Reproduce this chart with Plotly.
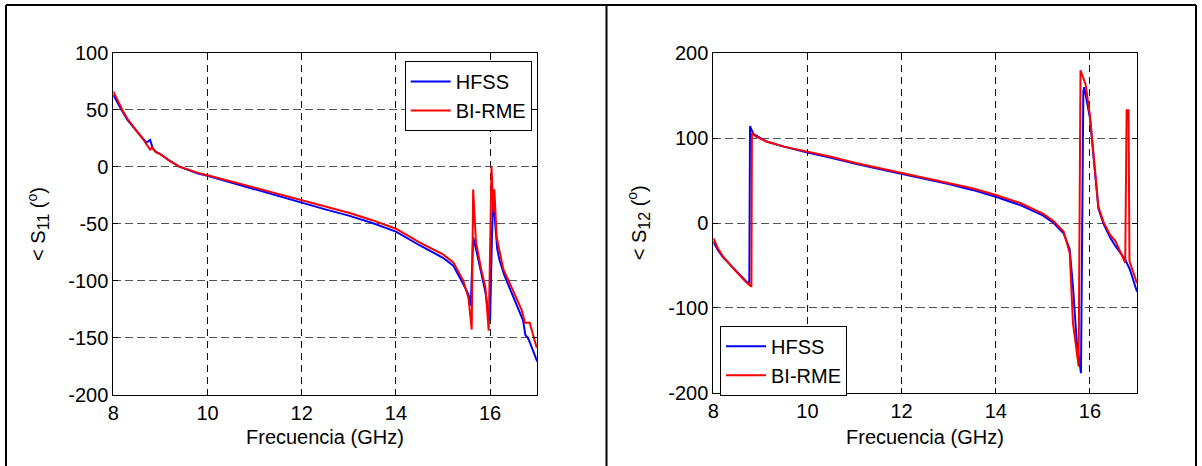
import plotly.graph_objects as go

# ---------------- data ----------------
s11_f_hfss = [8.0, 8.1, 8.2, 8.3, 8.4, 8.5, 8.6, 8.7, 8.78, 8.84, 8.9, 9.0, 9.2, 9.4, 9.6, 9.8, 10.0,
              10.5, 11.0, 11.5, 12.0, 12.5, 13.0, 13.5, 14.0, 14.5, 15.0, 15.22, 15.43, 15.54, 15.59,
              15.64, 15.7, 15.8, 15.9, 15.97, 16.0, 16.04, 16.07, 16.1, 16.15, 16.2, 16.3, 16.4,
              16.5, 16.6, 16.7, 16.75, 16.8, 16.85, 16.92, 17.0]
s11_v_hfss = [63, 55, 48, 41, 36, 31, 26, 21, 23.5, 16, 13, 11, 5, 0, -3, -6, -8,
              -14, -20, -26, -32, -37.5, -43, -49.5, -57, -69, -80, -87, -103, -112, -122,
              -62, -72, -92, -110, -130, -135, -60, -20, -45, -72, -82, -95, -105,
              -115, -125, -135, -148, -150, -155, -162, -171]

s11_f_birme = [8.0, 8.1, 8.2, 8.3, 8.4, 8.5, 8.6, 8.7, 8.78, 8.82, 8.9, 9.0, 9.2, 9.4, 9.6, 9.8, 10.0,
               10.5, 11.0, 11.5, 12.0, 12.5, 13.0, 13.5, 14.0, 14.5, 15.0, 15.22, 15.43, 15.54, 15.61,
               15.64, 15.7, 15.8, 15.9, 15.97, 16.03, 16.07, 16.09, 16.14, 16.28, 16.49, 16.67, 16.74,
               16.84, 16.99]
s11_v_birme = [66, 57, 49, 42, 36, 31, 26, 20, 15, 17, 13, 11, 5, 0, -3, -5.5, -7.5,
               -13, -18.5, -24, -30, -35, -40.5, -47, -54.5, -66.5, -77, -84, -100, -115, -143,
               -20, -66, -88, -106, -144, 0, -40, -20, -62, -90, -109, -126, -137,
               -137, -159]

s12_f_hfss = [8.0, 8.1, 8.2, 8.3, 8.4, 8.5, 8.6, 8.7, 8.765, 8.78, 8.85, 9.0, 9.13, 9.5, 10.0, 10.5,
              11.0, 11.5, 12.0, 12.5, 13.0, 13.5, 14.0, 14.52, 15.0, 15.23, 15.44, 15.57, 15.64,
              15.72, 15.81, 15.86, 15.88, 16.0, 16.09, 16.18, 16.29, 16.43, 16.54, 16.75, 16.85, 17.0]
s12_v_hfss = [-22, -32, -40, -46, -52, -58, -64, -69, -71, 114, 105, 100, 96, 90, 83, 77,
              70, 64, 58, 52, 46, 39, 31, 21, 9, 0, -12, -31, -75,
              -140, -177, 155, 160, 124, 66, 17, -1, -17, -27, -43, -55, -81]

s12_f_birme = [8.0, 8.1, 8.2, 8.3, 8.4, 8.5, 8.6, 8.7, 8.81, 8.82, 8.9, 9.13, 9.5, 10.0, 10.5,
               11.0, 11.5, 12.0, 12.5, 13.0, 13.5, 14.0, 14.52, 15.0, 15.23, 15.44, 15.57, 15.64,
               15.76, 15.8, 15.91, 16.0, 16.09, 16.18, 16.29, 16.43, 16.54, 16.75, 16.78, 16.82,
               16.84, 17.0]
s12_v_birme = [-18, -30, -39, -46, -52, -58, -64, -70, -75, 106, 102, 96, 90, 84, 78,
               71, 65, 59.5, 53.5, 47.5, 41, 33, 23.6, 11, 2, -10, -35, -118,
               -169, 180, 163, 127, 68, 19, 1, -14, -21, -47, 133, 133,
               -45, -71]

x_ticks = [8, 10, 12, 14, 16]
x_ticktext = ["8", "10", "12", "14", "16"]
y1_ticks = [-200, -150, -100, -50, 0, 50, 100]
y1_ticktext = ["-200", "-150", "-100", "-50", "0", "50", "100"]
y2_ticks = [-200, -100, 0, 100, 200]
y2_ticktext = ["-200", "-100", "0", "100", "200"]

x_title = "Frecuencia (GHz)"
y1_title = "&lt; S<sub><span style='font-size:16px'>11</span></sub> (<sup>o</sup>)"
y2_title = "&lt; S<sub><span style='font-size:16px'>12</span></sub> (<sup>o</sup>)"

# ---------------- figure ----------------
W, H = 1202, 466
FONT = "Liberation Sans, Arial, sans-serif"
BLUE = "#0000ff"
RED = "#ff0000"
FS = 20

fig = go.Figure()
fig.add_trace(go.Scatter(x=s11_f_hfss, y=s11_v_hfss, mode="lines", name="HFSS",
                         line=dict(color=BLUE, width=2), xaxis="x", yaxis="y", legend="legend"))
fig.add_trace(go.Scatter(x=s11_f_birme, y=s11_v_birme, mode="lines", name="BI-RME",
                         line=dict(color=RED, width=2), xaxis="x", yaxis="y", legend="legend"))
fig.add_trace(go.Scatter(x=s12_f_hfss, y=s12_v_hfss, mode="lines", name="HFSS",
                         line=dict(color=BLUE, width=2), xaxis="x2", yaxis="y2", legend="legend2"))
fig.add_trace(go.Scatter(x=s12_f_birme, y=s12_v_birme, mode="lines", name="BI-RME",
                         line=dict(color=RED, width=2), xaxis="x2", yaxis="y2", legend="legend2"))


def px_x(p):
    return p / W


def px_y(p):
    return 1 - p / H


tickfont = dict(family=FONT, size=FS, color="black")
common_x = dict(range=[8, 17], tickvals=x_ticks, ticktext=x_ticktext, ticks="inside", ticklen=5,
                tickcolor="black", showline=True, linecolor="black", linewidth=1, mirror="ticks",
                showgrid=True, gridcolor="#111111", gridwidth=1, griddash="7px,5px",
                zeroline=False, tickfont=tickfont, automargin=False, fixedrange=True)
common_y = dict(ticks="inside", ticklen=5, tickcolor="black",
                showline=True, linecolor="black", linewidth=1, mirror="ticks",
                showgrid=True, gridcolor="#555555", gridwidth=1.3, griddash="8px,4px",
                zeroline=False, tickfont=tickfont, automargin=False, fixedrange=True)

L1 = (113.3, 537.2, 52.7, 394.5)   # left, right, top, bottom in px
L2 = (713.3, 1137.0, 53.3, 392.7)

legend_common = dict(bgcolor="white", bordercolor="black", borderwidth=1, itemwidth=40,
                     entrywidth=82, entrywidthmode="pixels",
                     font=dict(family=FONT, size=FS, color="black"))

fig.update_layout(
    template="none",
    width=W, height=H, margin=dict(l=0, r=0, t=0, b=0, autoexpand=False),
    paper_bgcolor="white", plot_bgcolor="white",
    font=dict(family=FONT, size=FS, color="black"),
    xaxis=dict(domain=[px_x(L1[0]), px_x(L1[1])], anchor="y", **common_x),
    yaxis=dict(domain=[px_y(L1[3]), px_y(L1[2])], anchor="x", range=[-200, 100], tickvals=y1_ticks,
               ticktext=y1_ticktext, **common_y),
    xaxis2=dict(domain=[px_x(L2[0]), px_x(L2[1])], anchor="y2", **common_x),
    yaxis2=dict(domain=[px_y(L2[3]), px_y(L2[2])], anchor="x2", range=[-200, 200], tickvals=y2_ticks,
                ticktext=y2_ticktext, **common_y),
    legend=dict(x=px_x(531.7), xanchor="right", y=px_y(61), yanchor="top", **legend_common),
    legend2=dict(x=px_x(720), xanchor="left", y=px_y(325.7), yanchor="top", **legend_common),
)

# axis titles as annotations (exact placement)
title_font = dict(family=FONT, size=FS, color="black")
for (l, r, t, b), yt in ((L1, y1_title), (L2, y2_title)):
    fig.add_annotation(text=x_title, xref="paper", yref="paper", x=px_x((l + r) / 2), y=px_y(437),
                       xanchor="center", yanchor="middle", showarrow=False, font=title_font)
    fig.add_annotation(text=yt, xref="paper", yref="paper", x=px_x(l - 75), y=px_y((t + b) / 2),
                       xanchor="center", yanchor="middle", showarrow=False, textangle=-90,
                       font=title_font)

# outer table border
border = dict(type="line", xref="paper", yref="paper", line=dict(color="black", width=2))
fig.add_shape(x0=px_x(6), x1=px_x(1196), y0=px_y(5), y1=px_y(5), **border)
fig.add_shape(x0=px_x(6), x1=px_x(6), y0=px_y(5), y1=px_y(466), **border)
fig.add_shape(x0=px_x(606.5), x1=px_x(606.5), y0=px_y(5), y1=px_y(466), **border)
fig.add_shape(x0=px_x(1196), x1=px_x(1196), y0=px_y(5), y1=px_y(466), **border)

fig.write_html("out.html")
